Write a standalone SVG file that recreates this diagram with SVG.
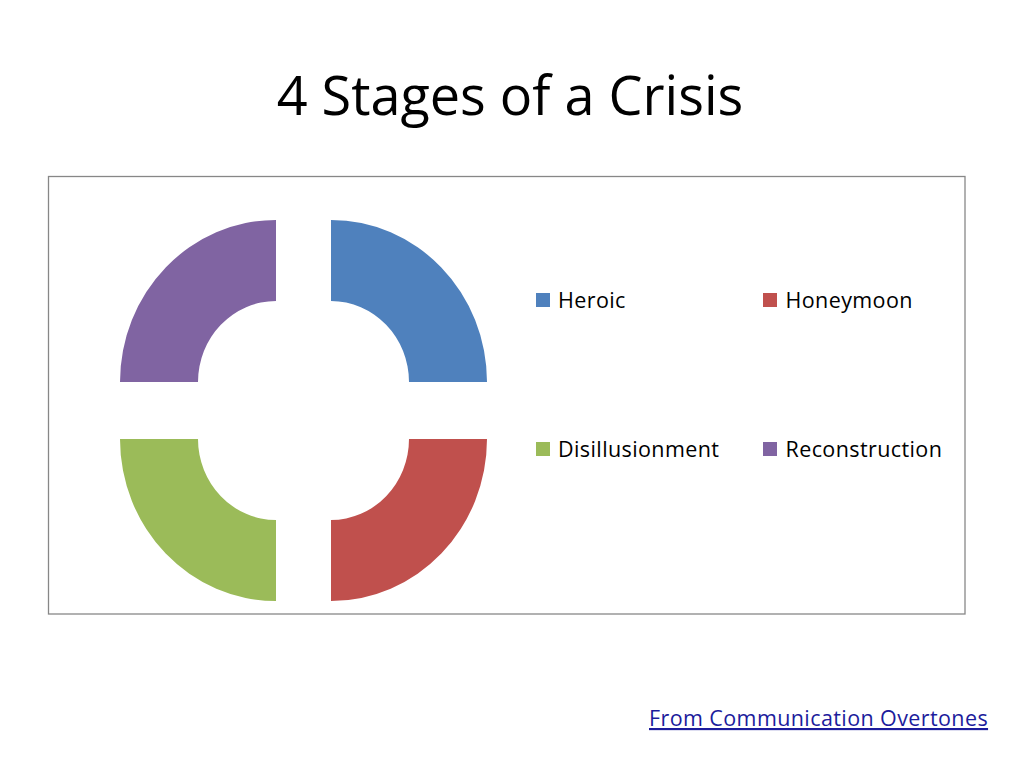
<svg xmlns="http://www.w3.org/2000/svg" width="1024" height="768" viewBox="0 0 1024 768">
<style>
.t{font-family:"Open Sans","Liberation Sans",sans-serif;fill:#000}
.lg{font-size:21.5px;letter-spacing:0.4px}
</style>
<rect width="1024" height="768" fill="#fff"/>
<text class="t" x="510" y="115" font-size="54" text-anchor="middle">4 Stages of a Crisis</text>
<rect id="chart-frame" x="48.5" y="176.5" width="916.5" height="437.5" fill="#fff" stroke="#878787" stroke-width="1.3"/>
<g id="segments">
<g id="heroic"><path d="M331 220 A156 162 0 0 1 487 382 L409 382 A78 81 0 0 0 331 301 Z" fill="#4f81bd"/></g>
<g id="honeymoon"><path d="M487 439 A156 162 0 0 1 331 601 L331 520 A78 81 0 0 0 409 439 Z" fill="#c0504d"/></g>
<g id="disillusionment"><path d="M276 601 A156 162 0 0 1 120 439 L198 439 A78 81 0 0 0 276 520 Z" fill="#9bbb59"/></g>
<g id="reconstruction"><path d="M120 382 A156 162 0 0 1 276 220 L276 301 A78 81 0 0 0 198 382 Z" fill="#8064a2"/></g>
</g>
<g id="legend">
<g id="leg-heroic"><rect x="536" y="293" width="14" height="14" fill="#4f81bd"/><text class="t lg" x="558" y="307.5">Heroic</text></g>
<g id="leg-honeymoon"><rect x="763" y="293" width="14" height="14" fill="#c0504d"/><text class="t lg" x="785.5" y="307.5">Honeymoon</text></g>
<g id="leg-disillusionment"><rect x="536" y="442" width="14" height="14" fill="#9bbb59"/><text class="t lg" x="558" y="456.5">Disillusionment</text></g>
<g id="leg-reconstruction"><rect x="763" y="442" width="14" height="14" fill="#8064a2"/><text class="t lg" x="785.5" y="456.5">Reconstruction</text></g>
</g>
<text x="649" y="726" font-family="Open Sans, Liberation Sans, sans-serif" font-size="21.5" letter-spacing="0.4" fill="#1c1c9c" text-decoration="underline">From Communication Overtones</text>
</svg>
